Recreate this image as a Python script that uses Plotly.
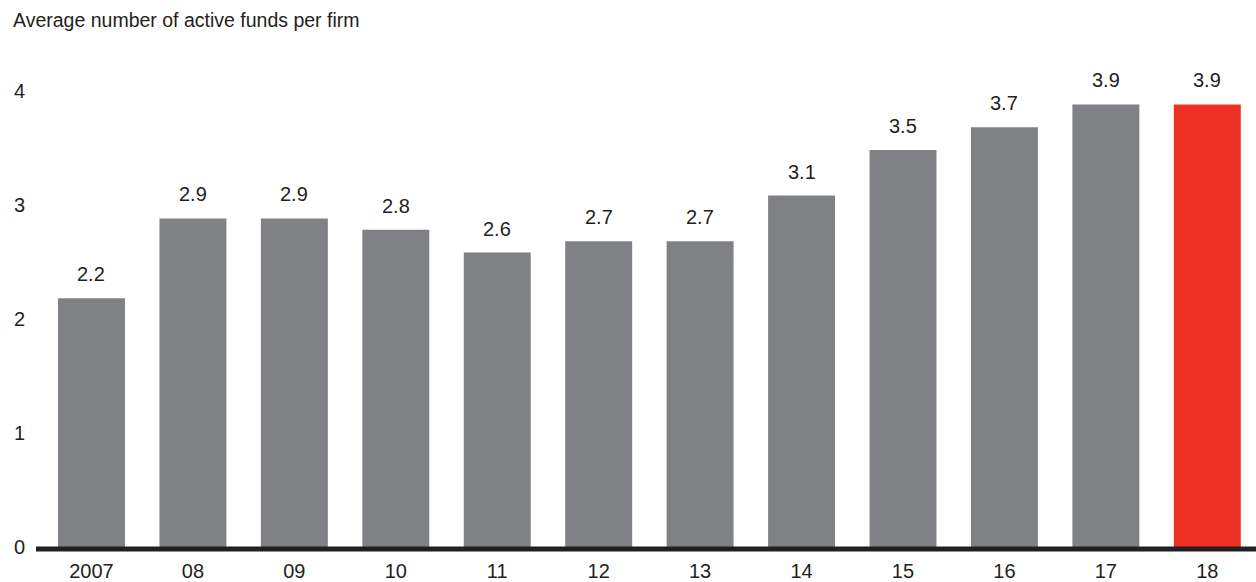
import plotly.graph_objects as go

years = ["2007", "08", "09", "10", "11", "12", "13", "14", "15", "16", "17", "18"]
avg_funds = [2.2, 2.9, 2.9, 2.8, 2.6, 2.7, 2.7, 3.1, 3.5, 3.7, 3.9, 3.9]
y_ticks = [0, 1, 2, 3, 4]

GRAY = "#808184"
RED = "#ee3124"
INK = "#231f20"
FONT = "Liberation Sans, Arial, sans-serif"
SIZE = 20

colors = [GRAY] * (len(years) - 1) + [RED]

fig = go.Figure(
    go.Bar(
        x=years,
        y=avg_funds,
        marker=dict(color=colors, line=dict(width=0)),
        hoverinfo="x+y",
    )
)

# value labels above each bar (category index used as x position)
for i, v in enumerate(avg_funds):
    fig.add_annotation(
        x=i, y=v, text=f"{v:.1f}", showarrow=False,
        yanchor="bottom", yshift=11,
        font=dict(family=FONT, size=SIZE, color=INK),
    )

# heavy baseline along the bottom of the plot area
fig.add_shape(
    type="line", xref="paper", yref="paper", x0=0, x1=1, y0=0, y1=0,
    line=dict(color=INK, width=5), layer="above",
)

fig.update_layout(
    width=1256, height=582,
    margin=dict(l=36, r=0, t=60, b=33),
    paper_bgcolor="white", plot_bgcolor="white",
    bargap=0.34,
    showlegend=False,
    font=dict(family=FONT, size=SIZE, color=INK),
    title=dict(
        text="Average number of active funds per firm",
        x=13 / 1256, xanchor="left", xref="container",
        y=1 - 20.5 / 582, yanchor="middle", yref="container",
        font=dict(family=FONT, size=19.5, color=INK),
    ),
    xaxis=dict(
        type="category",
        range=[-0.547, 11.48], showgrid=False, zeroline=False, showline=False,
        ticks="outside", ticklen=4, tickcolor="rgba(0,0,0,0)",
        tickfont=dict(family=FONT, size=SIZE, color=INK),
    ),
    yaxis=dict(
        range=[0, 489 / 114], tickvals=y_ticks, showgrid=False, zeroline=False,
        showline=False, ticks="outside", ticklen=6, tickcolor="rgba(0,0,0,0)",
        ticklabelshift=-2,
        tickfont=dict(family=FONT, size=SIZE, color=INK),
    ),
)

fig.write_html("out.html")
